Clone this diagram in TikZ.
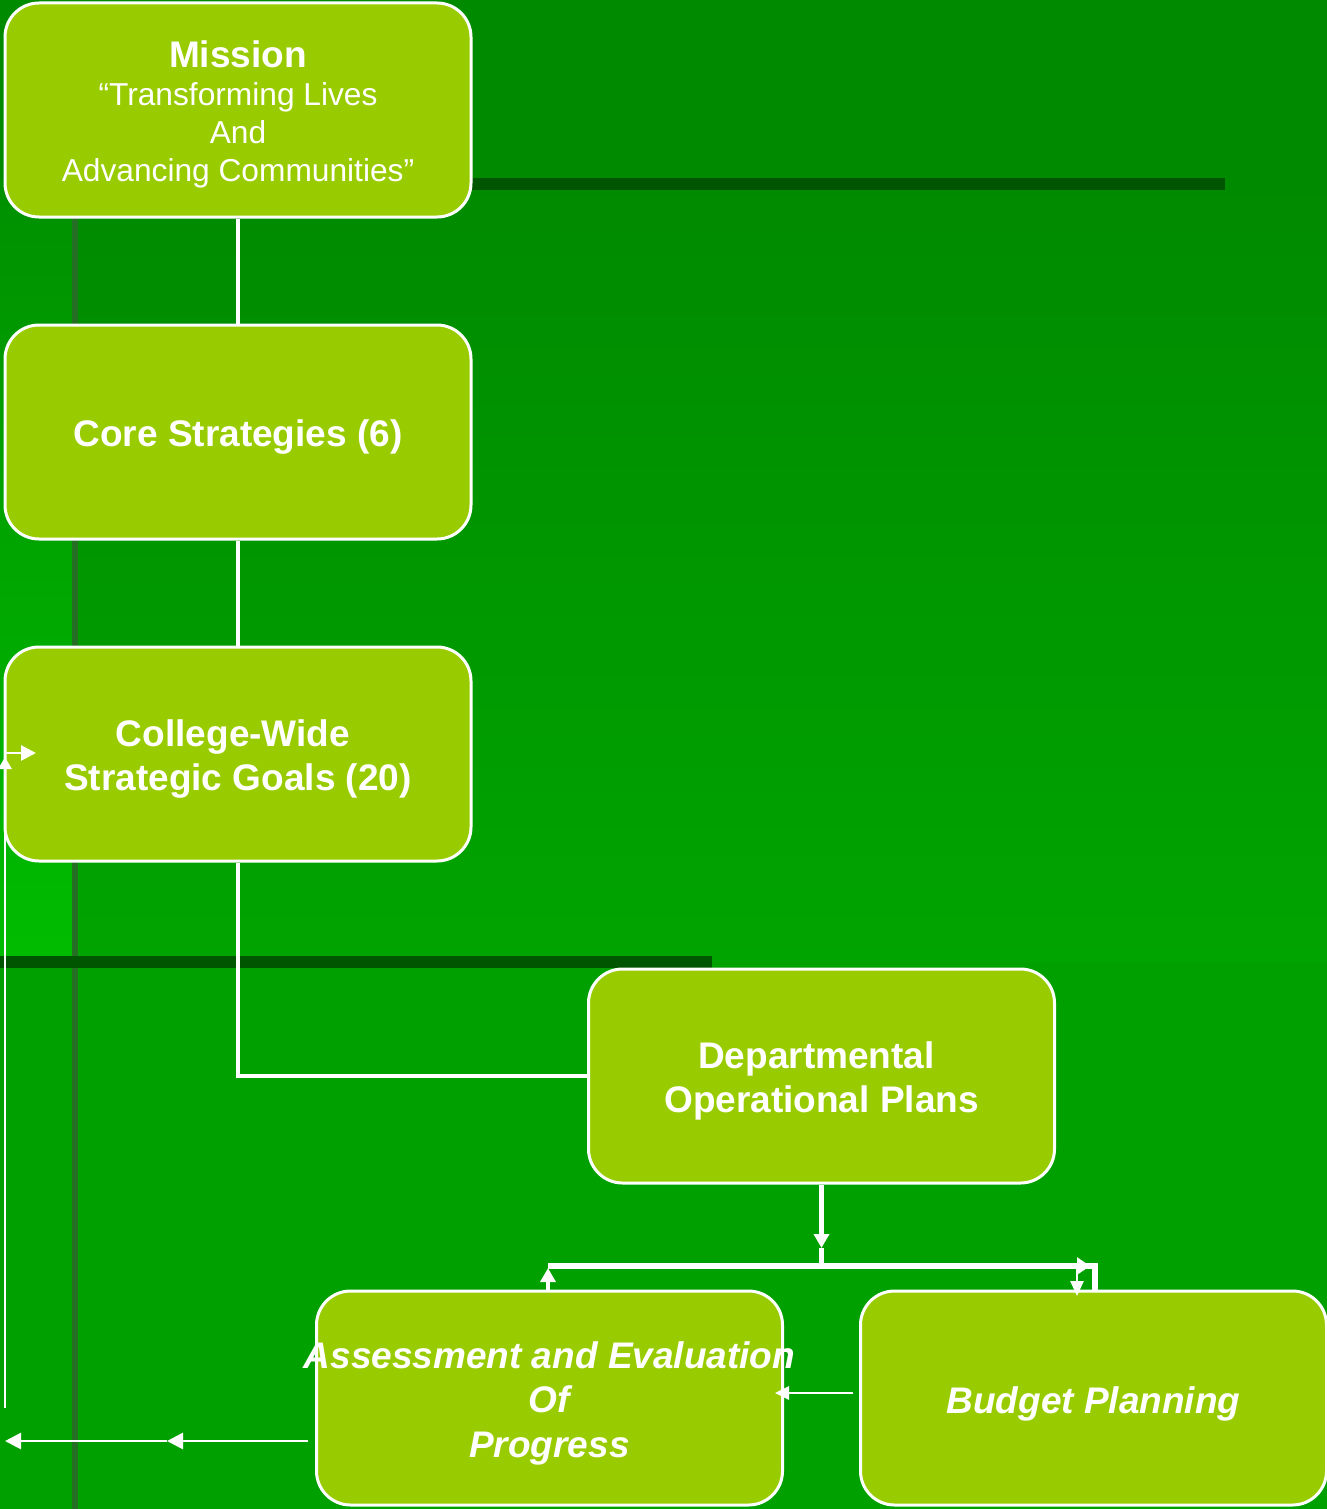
\documentclass[tikz,border=0pt]{standalone}
\usepackage{fontspec}
\setmainfont{Liberation Sans}
\usetikzlibrary{arrows.meta}
\definecolor{topgreen}{HTML}{008A00}
\definecolor{midtop}{HTML}{008A00}
\definecolor{midbot}{HTML}{00A400}
\definecolor{lowgreen}{HTML}{00A000}
\definecolor{stripdark}{HTML}{009000}
\definecolor{stripbright}{HTML}{00BC00}
\definecolor{barcol}{HTML}{005500}
\definecolor{vlinecol}{HTML}{246F24}
\definecolor{boxgreen}{HTML}{99CC00}
\begin{document}
\begin{tikzpicture}[x=1pt,y=-1pt,
  box/.style={draw=white, line width=3pt, fill=boxgreen, rounded corners=34pt,
    minimum width=466pt, minimum height=214pt, inner sep=0pt},
  txt/.style={inner sep=0pt, align=center, text=white},
  boldtext/.style={txt, font=\fontsize{37}{44.5}\selectfont\bfseries},
  bitext/.style={txt, font=\fontsize{37}{44.5}\selectfont\bfseries\itshape},
  conn/.style={draw=white, line width=4.5pt},
  hconn/.style={draw=white, line width=5.5pt},
  bigtip/.style={-{Triangle[length=14pt,width=15pt]}},
  midarrow/.style={draw=white, line width=2.8pt},
  tarrow/.style={draw=white, line width=2.8pt, -{Triangle[length=16pt,width=16pt]}},
]
\useasboundingbox (0,0) rectangle (1327,1509);
% background
\fill[topgreen] (0,0) rectangle (1327,180);
\shade[top color=midtop, bottom color=midbot] (0,180) rectangle (1327,962);
\shade[top color=stripdark, bottom color=stripbright] (0,180) rectangle (72,962);
\fill[lowgreen] (0,962) rectangle (1327,1509);
\fill[vlinecol] (72,180) rectangle (78,1509);
\fill[barcol] (470,178) rectangle (1225,190);
\fill[barcol] (0,956) rectangle (712,968);

% boxes
\node[box] (mission) at (238,110) {};
\node[box] (core) at (238,432) {};
\node[box] (college) at (238,754) {};
\node[box] (dept) at (821.5,1076) {};
\node[box] (assess) at (549.5,1398) {};
\node[box] (budget) at (1093.5,1398) {};

% texts
\node[txt, font=\fontsize{31.7}{38}\selectfont] (missiontext) at ([yshift=-4pt]mission.center)
  {{\fontsize{37}{38}\selectfont\bfseries Mission}\\
   “Transforming Lives\hspace*{8.8pt}\\And\\Advancing Communities”};
\node[boldtext] (coretext) at ([yshift=-5pt]core.center) {Core Strategies (6)};
\node[boldtext] (collegetext) at ([yshift=-5pt]college.center) {College-Wide\hspace*{10pt}\\Strategic Goals (20)};
\node[boldtext] (depttext) at ([yshift=-5pt]dept.center) {Departmental\hspace*{10pt}\\Operational Plans};
\node[bitext] (assesstext) at ([yshift=-5pt]assess.center) {Assessment and Evaluation\\Of\\Progress};
\node[bitext] (budgettext) at ([yshift=-6pt]budget.center) {Budget Planning};

% connectors
\draw[conn] (mission.south) -- (core.north);
\draw[conn] (core.south) -- (college.north);
\draw[conn] (college.south) |- (dept.west);

\coordinate (hub) at (821.5,1266);
\coordinate (hubtip) at (821.5,1248);
\coordinate (hl) at (548,1266);
\coordinate (hr) at (1095,1266);
\coordinate (hrtip) at (1090,1266);
\coordinate (uptip) at (548,1268);
\coordinate (dn0) at (1077,1266);
\coordinate (dntip) at (1077,1296);

\draw[conn, bigtip] (dept.south) -- (hubtip);
\draw[conn] (hubtip) -- (hub);
\draw[hconn] (hl) -- (hr) -- (hr |- budget.north);
\draw[conn, bigtip] (hl |- assess.north) -- (uptip);
\draw[midarrow, -{Triangle[length=13pt,width=17pt]}] (hub) -- (hrtip);
\draw[midarrow, -{Triangle[length=15pt,width=13pt]}] (dn0) -- (dntip);

% thin arrows
\coordinate (b1) at (853,1393);
\coordinate (a1) at (775,1393);
\draw[tarrow, -{Triangle[length=14pt,width=13pt]}] (b1) -- (a1);

\coordinate (ao) at (308,1441);
\coordinate (mid1) at (167,1441);
\coordinate (le) at (5,1441);
\draw[tarrow] (ao) -- (mid1);
\draw[tarrow] (mid1) -- (le);

\coordinate (lvb) at (5,1408);
\coordinate (lvt) at (5,757);
\coordinate (lh0) at (5,753);
\coordinate (lhtip) at (36,753);
\draw[tarrow, -{Triangle[length=12pt,width=13pt]}] (lvb) -- (lvt);
\draw[tarrow, -{Triangle[length=15pt,width=15pt]}] (lh0) -- (lhtip);
\end{tikzpicture}
\end{document}
